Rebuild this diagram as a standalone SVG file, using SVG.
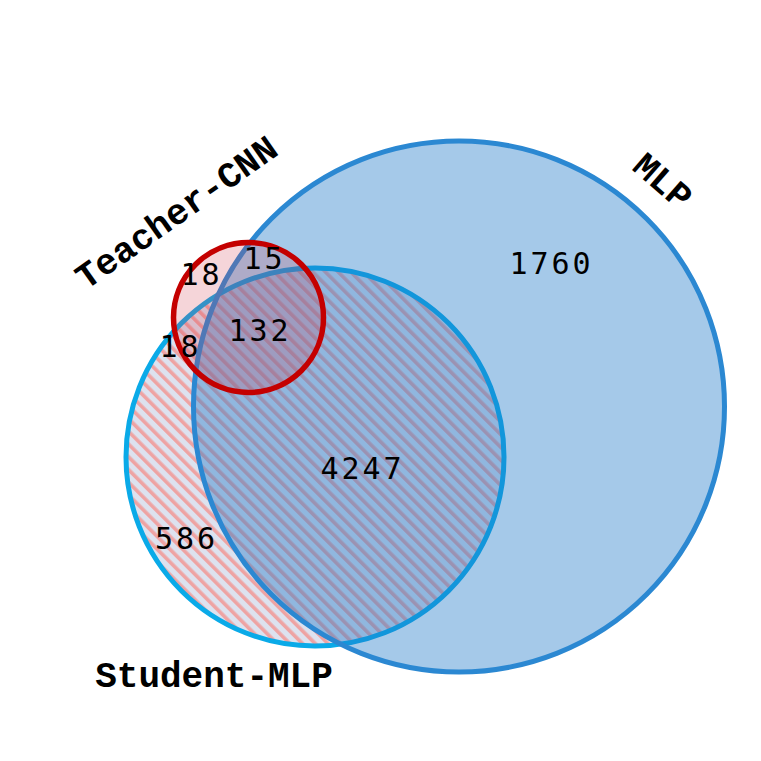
<svg xmlns="http://www.w3.org/2000/svg" width="761" height="761" viewBox="0 0 761 761">
<style>
.count{font-family:"DejaVu Sans Mono","Liberation Mono",monospace;font-size:30px;letter-spacing:3px;text-anchor:middle;fill:#000}
.label{font-family:"Liberation Mono","Courier New",monospace;font-weight:bold;font-size:36px;text-anchor:middle;fill:#000}
</style>
<defs>
<pattern id="hatch" patternUnits="userSpaceOnUse" width="9" height="9" patternTransform="rotate(-45)">
<rect x="0" y="0" width="9" height="9" fill="#dde2ef"/>
<rect x="0" y="0" width="3.6" height="9" fill="#eea3a3"/>
</pattern>
</defs>
<rect width="761" height="761" fill="#fff"/>
<g id="student-mlp">
<circle cx="315" cy="457" r="189" fill="url(#hatch)"/>
<circle cx="315" cy="457" r="189" fill="none" stroke="#0aaae8" stroke-width="5"/>
</g>
<g id="mlp">
<circle cx="459" cy="406.5" r="265.5" fill="#1f78c8" fill-opacity="0.4"/>
<circle cx="459" cy="406.5" r="265.5" fill="none" stroke="#2b88d2" stroke-width="5"/>
</g>
<g id="teacher-cnn">
<circle cx="248.5" cy="317.5" r="75" fill="#d04050" fill-opacity="0.22"/>
<circle cx="248.5" cy="317.5" r="75" fill="none" stroke="#c40000" stroke-width="5.5"/>
</g>
<g id="labels">
<text class="label" transform="translate(177,213.5) rotate(-35.2)" x="0" y="10.5">Teacher-CNN</text>
<text class="label" transform="translate(662,182) rotate(41)" x="0" y="10.5">MLP</text>
<text class="label" x="214" y="687">Student-MLP</text>
</g>
<g id="counts">
<text class="count" x="551.5" y="274">1760</text>
<text class="count" x="362.5" y="479">4247</text>
<text class="count" x="186.5" y="549">586</text>
<text class="count" x="260" y="341">132</text>
<text class="count" x="264.5" y="269">15</text>
<text class="count" x="201.5" y="285">18</text>
<text class="count" x="180.5" y="357">18</text>
</g>
</svg>
